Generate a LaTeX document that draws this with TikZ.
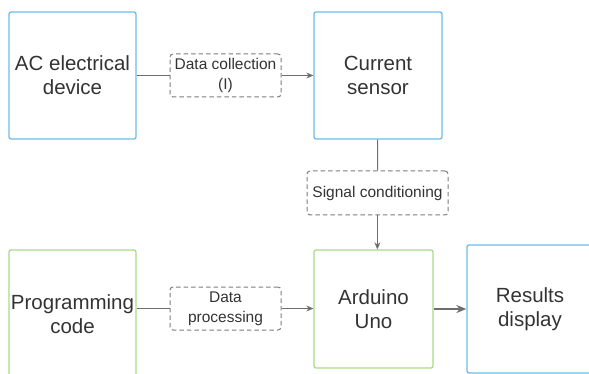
\documentclass[tikz,border=0pt]{standalone}
\usepackage{fontspec}
\setmainfont{Liberation Sans}
\usetikzlibrary{positioning,arrows.meta}

\definecolor{boxblue}{HTML}{6BBDE8}
\definecolor{boxgreen}{HTML}{A8DB86}
\definecolor{txt}{HTML}{333333}
\definecolor{wire}{HTML}{6E6E6E}

\tikzset{
  block/.style={draw,line width=1.3pt,rounded corners=2pt,align=center,text=txt,
    font=\fontsize{20.5}{24}\selectfont,inner sep=0pt},
  blue/.style={block,draw=boxblue},
  green/.style={block,draw=boxgreen},
  task/.style={draw=wire!90,dash pattern=on 4.5pt off 3pt,line width=1pt,rounded corners=3pt,
    align=center,text=txt,font=\fontsize{15.5}{20}\selectfont,inner sep=0pt},
  wire/.style={draw=wire,line width=1pt}
}

\begin{document}
\begin{tikzpicture}[x=1pt,y=-1pt,>={Stealth[length=7pt,width=6pt]}]
  \useasboundingbox (0,0) rectangle (589,374);

  \node[blue,minimum width=127pt,minimum height=127pt]  (dev)     at (72.5,75.5) {AC electrical\\device};
  \node[blue,minimum width=128pt,minimum height=127pt]  (sensor)  at (378,75.5)  {Current\\sensor};
  \node[task,minimum width=111pt,minimum height=43pt]   (collect) at (225.5,75.5){Data collection\\(I)};
  \node[task,minimum width=141pt,minimum height=44pt]   (cond)    at (377.5,193) {Signal conditioning};
  \node[green,minimum width=119pt,minimum height=118pt] (arduino) at (373.5,309) {Arduino\\Uno};
  \node[green,minimum width=127pt,minimum height=128pt] (code)    at (72.5,314)  {Programming\\code};
  \node[task,minimum width=111pt,minimum height=43pt]   (process) at (225.5,308.5){Data\\processing};
  \node[blue,minimum width=126pt,minimum height=128pt]  (results) at (530,309)   {Results\\display};

  \path[wire] (dev) -- (collect);
  \path[wire,->] (collect) -- (sensor);
  \path[wire] (sensor) -- (cond);
  \path[wire,->] (cond.south -| arduino.north west) ++(64,0) coordinate (c) -- (c |- arduino.north);
  \path[wire] (code.east |- process) -- (process);
  \path[wire,->] (process) -- (arduino.west |- process);
  \path[wire,line width=2pt,-{Stealth[length=10pt,width=8pt]}] (arduino.east |- results) -- (results);
\end{tikzpicture}
\end{document}
